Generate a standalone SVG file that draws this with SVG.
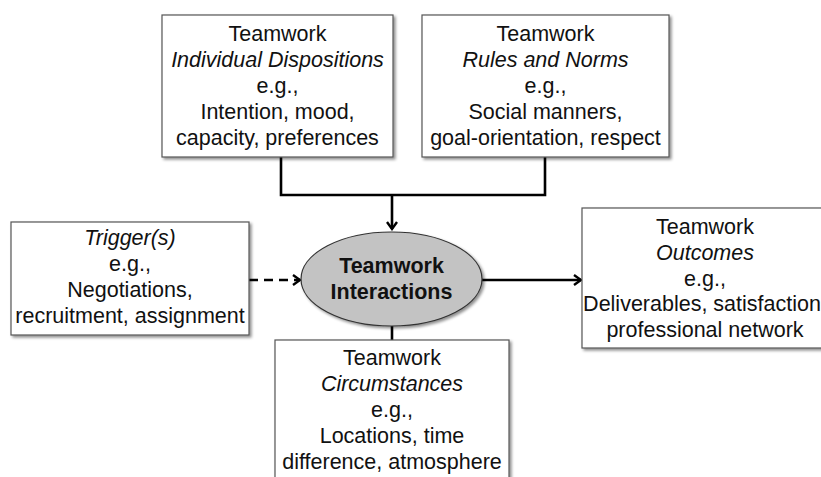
<svg xmlns="http://www.w3.org/2000/svg" width="821" height="477" viewBox="0 0 821 477">
<style>
.box{fill:#fff;stroke:#555;stroke-width:1.2;filter:url(#sh)}
.t{font-family:"Liberation Sans",Arial,sans-serif;font-size:21.5px;fill:#111;text-anchor:middle}
.i{font-style:italic}
.b{font-weight:bold}
.c{fill:none;stroke:#000;stroke-width:2.6}
</style>
<defs>
<filter id="sh" x="-10%" y="-10%" width="130%" height="130%">
<feGaussianBlur in="SourceAlpha" stdDeviation="1.5"/>
<feOffset dx="2" dy="2" result="o"/>
<feComponentTransfer><feFuncA type="linear" slope="0.45"/></feComponentTransfer>
<feMerge><feMergeNode/><feMergeNode in="SourceGraphic"/></feMerge>
</filter>
<marker id="ah" markerWidth="12" markerHeight="12" refX="10" refY="6" orient="auto" markerUnits="userSpaceOnUse">
<path d="M3,1 L10,6 L3,11" fill="none" stroke="#000" stroke-width="2.4"/>
</marker>
</defs>
<g id="connectors">
<path class="c" d="M281,157 V195 H545 V157"/>
<path class="c" d="M392,195 V229" marker-end="url(#ah)"/>
<path class="c" d="M249,280 H300" stroke-dasharray="9,6" marker-end="url(#ah)"/>
<path class="c" d="M482,280 H581" marker-end="url(#ah)"/>
<path class="c" d="M392,326 V340"/>
</g>
<g id="dispositions">
<rect class="box" x="162" y="15" width="231" height="142"/>
<text class="t" x="277.5" y="41">Teamwork</text>
<text class="t i" x="277.5" y="67">Individual Dispositions</text>
<text class="t" x="277.5" y="93">e.g.,</text>
<text class="t" x="277.5" y="119">Intention, mood,</text>
<text class="t" x="277.5" y="145">capacity, preferences</text>
</g>
<g id="norms">
<rect class="box" x="422" y="15" width="247" height="142"/>
<text class="t" x="545.5" y="41">Teamwork</text>
<text class="t i" x="545.5" y="67">Rules and Norms</text>
<text class="t" x="545.5" y="93">e.g.,</text>
<text class="t" x="545.5" y="119">Social manners,</text>
<text class="t" x="545.5" y="145">goal-orientation, respect</text>
</g>
<g id="trigger">
<rect class="box" x="11" y="222" width="238" height="113"/>
<text class="t i" x="130" y="245">Trigger(s)</text>
<text class="t" x="130" y="271">e.g.,</text>
<text class="t" x="130" y="297">Negotiations,</text>
<text class="t" x="130" y="323">recruitment, assignment</text>
</g>
<g id="interactions">
<ellipse cx="391.5" cy="279" rx="90.5" ry="47" fill="#c3c3c3" stroke="#333" stroke-width="1.2" filter="url(#sh)"/>
<text class="t b" x="391.5" y="273">Teamwork</text>
<text class="t b" x="391.5" y="299">Interactions</text>
</g>
<g id="outcomes">
<rect class="box" x="582" y="208" width="246" height="140"/>
<text class="t" x="705" y="234">Teamwork</text>
<text class="t i" x="705" y="260">Outcomes</text>
<text class="t" x="705" y="286">e.g.,</text>
<text class="t" x="705" y="311">Deliverables, satisfaction,</text>
<text class="t" x="705" y="337">professional network</text>
</g>
<g id="circumstances">
<rect class="box" x="275" y="340" width="234" height="150"/>
<text class="t" x="392" y="365">Teamwork</text>
<text class="t i" x="392" y="391">Circumstances</text>
<text class="t" x="392" y="417">e.g.,</text>
<text class="t" x="392" y="443">Locations, time</text>
<text class="t" x="392" y="469">difference, atmosphere</text>
</g>
</svg>
